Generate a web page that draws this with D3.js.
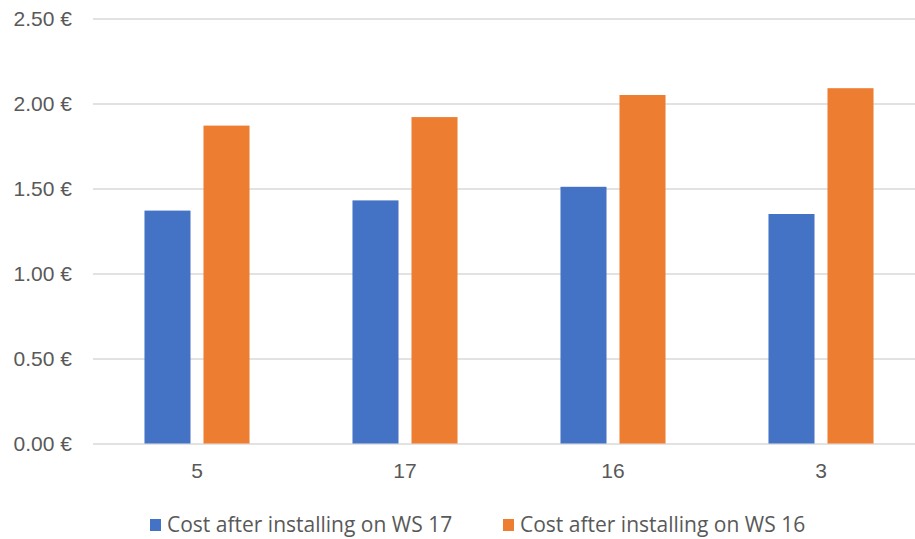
<!DOCTYPE html>
<html>
<head>
<meta charset="utf-8">
<script src="https://cdn.jsdelivr.net/npm/d3@7"></script>
<style>
  html, body { margin: 0; padding: 0; background: #fff; }
  svg { display: block; font-family: "Open Sans", "Noto Sans", sans-serif; }
</style>
</head>
<body>
<svg id="chart" width="915" height="539"></svg>
<script>
// Workstation categories along the x axis
const categories = ["5", "17", "16", "3"];
// Series names and values (cost in €)
const seriesNames = ["Cost after installing on WS 17", "Cost after installing on WS 16"];
const ws17Cost = [1.37, 1.43, 1.51, 1.35];
const ws16Cost = [1.87, 1.92, 2.05, 2.09];
const yTicks = [0, 0.5, 1.0, 1.5, 2.0, 2.5];

const colors = ["#4472C4", "#ED7D31"];
const seriesValues = [ws17Cost, ws16Cost];
const fontSize = "21px";
const textColor = "#595959";

const svg = d3.select("#chart");
const plot = { left: 93, right: 925, top: 18.5, bottom: 443.5 };

const x = d3.scaleBand().domain(categories).range([plot.left, plot.right]).padding(0);
const groupWidth = x.bandwidth() * 0.505;
const groupStart = (x.bandwidth() - groupWidth) / 2;
const sub = d3.scaleBand().domain(d3.range(seriesNames.length))
  .range([groupStart, groupStart + groupWidth]).paddingInner(0.22).paddingOuter(0);
const y = d3.scaleLinear().domain([0, 2.5]).range([plot.bottom, plot.top]);

const fmt = v => d3.format(".2f")(v) + " €";

// Horizontal gridlines and y labels
const yAxis = d3.axisLeft(y).tickValues(yTicks).tickFormat(fmt)
  .tickSize(-(plot.right - plot.left)).tickPadding(21);
const gy = svg.append("g").attr("transform", `translate(${plot.left},0)`).call(yAxis);
gy.select(".domain").remove();
gy.selectAll(".tick line").attr("stroke", "#D9D9D9").attr("stroke-width", 1.3);
gy.selectAll(".tick text").attr("fill", textColor).style("font-size", fontSize);

// Bars
categories.forEach((c, i) => {
  seriesValues.forEach((vals, s) => {
    svg.append("rect")
      .attr("x", x(c) + sub(s))
      .attr("width", sub.bandwidth())
      .attr("y", y(vals[i]))
      .attr("height", y(0) - y(vals[i]))
      .attr("fill", colors[s]);
  });
});

// Category axis labels
const xAxis = d3.axisBottom(x).tickSize(0).tickPadding(20);
const gx = svg.append("g").attr("transform", `translate(0,${plot.bottom})`).call(xAxis);
gx.select(".domain").remove();
gx.selectAll(".tick text").attr("fill", textColor).style("font-size", fontSize);

// Legend
const legendX = [150, 503];
seriesNames.forEach((name, s) => {
  const g = svg.append("g").attr("transform", `translate(${legendX[s]},519)`);
  g.append("rect").attr("width", 11).attr("height", 12).attr("fill", colors[s]);
  g.append("text").attr("x", 17).attr("y", 6).attr("dy", "0.35em")
    .attr("fill", textColor).style("font-size", fontSize).text(name);
});
</script>
</body>
</html>
